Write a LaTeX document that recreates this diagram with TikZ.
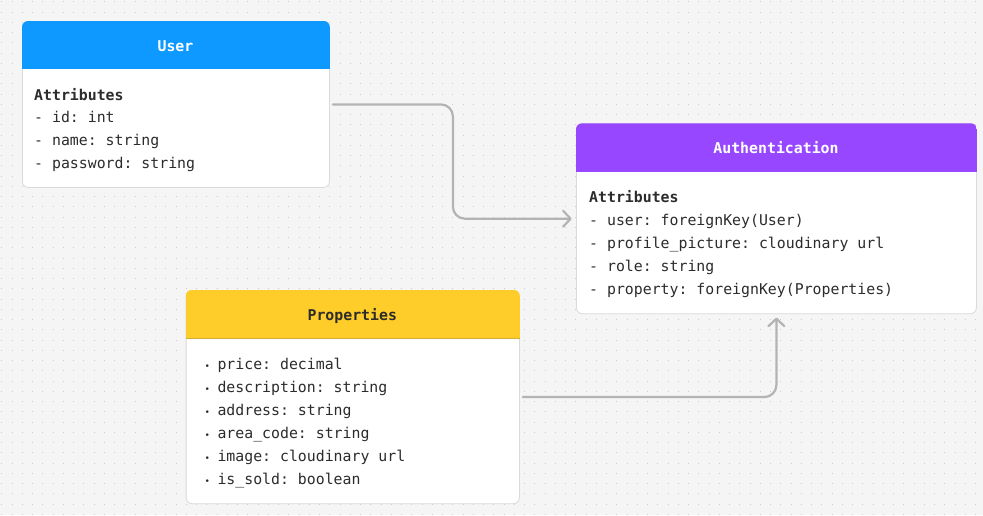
\documentclass[tikz,border=0pt]{standalone}
\usepackage{fontspec}
\setmonofont{DejaVu Sans Mono}
\usetikzlibrary{arrows.meta,calc}
\definecolor{bgc}{HTML}{F5F5F5}
\definecolor{dotc}{HTML}{CDCDCD}
\definecolor{borderc}{HTML}{DADADA}
\definecolor{userblue}{HTML}{0D99FF}
\definecolor{authpurple}{HTML}{9747FF}
\definecolor{propyellow}{HTML}{FFCD29}
\definecolor{txt}{HTML}{2C2C2C}
\definecolor{connc}{HTML}{B3B3B3}
\begin{document}
\begin{tikzpicture}[x=1pt,y=-1pt,
  box/.style={draw=borderc,fill=white,line width=0.8pt,rounded corners=6pt,inner sep=0pt,anchor=north west},
  title/.style={font=\ttfamily\bfseries\fontsize{14.85}{18}\selectfont,inner sep=0pt,anchor=base},
  attr/.style={font=\ttfamily\fontsize{14.85}{18}\selectfont,text=txt,inner sep=0pt,anchor=base west},
  battr/.style={attr,font=\ttfamily\bfseries\fontsize{14.85}{18}\selectfont},
  conn/.style={draw=connc,line width=2.2pt,rounded corners=12pt,line cap=round,line join=round,
    -{Straight Barb[length=7.5pt,width=16pt,line cap=round,line join=round]}}
]
\useasboundingbox (0,0) rectangle (983,515);
\fill[bgc] (0,0) rectangle (983,515);
\foreach \k in {0,...,50}
  \draw[dotc,line width=1.1pt,dash pattern=on 1.1pt off 9.15pt] (1.25,{1.8+10.25*\k}) -- (983,{1.8+10.25*\k});

% boxes
\node[box,minimum width=307pt,minimum height=166pt] (user) at (22,21) {};
\node[box,minimum width=400pt,minimum height=190pt] (auth) at (576,123.3) {};
\node[box,minimum width=333.3pt,minimum height=213.3pt] (props) at (185.7,290) {};

% headers
\begin{scope}
  \clip[rounded corners=6pt] (user.north west) rectangle (user.south east);
  \fill[userblue] (user.north west) rectangle ($(user.north east)+(0,48.3)$);
\end{scope}
\begin{scope}
  \clip[rounded corners=6pt] (auth.north west) rectangle (auth.south east);
  \fill[authpurple] (auth.north west) rectangle ($(auth.north east)+(0,49)$);
\end{scope}
\begin{scope}
  \clip[rounded corners=6pt] (props.north west) rectangle (props.south east);
  \fill[propyellow] (props.north west) rectangle ($(props.north east)+(0,48.3)$);
  \draw[propyellow!80!black!90,line width=0.6pt] ($(props.north west)+(0,48.3)$) -- ($(props.north east)+(0,48.3)$);
\end{scope}

% titles
\node[title,text=white] (usertitle) at (175.5,51) {User};
\node[title,text=white] (authtitle) at (776,153) {Authentication};
\node[title,text=txt] (proptitle) at (352.3,320.7) {Properties};

% user attributes
\node[battr] (ua0) at (34,100) {Attributes};
\node[attr] (ua1) at (34,122.7) {- id: int};
\node[attr] (ua2) at (34,145.3) {- name: string};
\node[attr] (ua3) at (34,168) {- password: string};

% auth attributes
\node[battr] (aa0) at (589,202) {Attributes};
\node[attr] (aa1) at (589,225) {- user: foreignKey(User)};
\node[attr] (aa2) at (589,248) {- profile\_picture: cloudinary url};
\node[attr] (aa3) at (589,271) {- role: string};
\node[attr] (aa4) at (589,294) {- property: foreignKey(Properties)};

% properties
\newcommand{\blt}{\llap{{\fontsize{9}{9}\selectfont •}\hspace{7.5pt}}}
\node[attr] (pa1) at (217.3,369) {\blt price: decimal};
\node[attr] (pa2) at (217.3,392) {\blt description: string};
\node[attr] (pa3) at (217.3,415) {\blt address: string};
\node[attr] (pa4) at (217.3,438) {\blt area\_code: string};
\node[attr] (pa5) at (217.3,461) {\blt image: cloudinary url};
\node[attr] (pa6) at (217.3,484) {\blt is\_sold: boolean};

% connectors
\coordinate (mid) at ($(user.east)!0.5!(auth.west)$);
\draw[conn,shorten <=3pt,shorten >=4.3pt] (user.east) -| (mid) |- (auth.west);
\draw[conn,shorten <=3pt,shorten >=3.5pt] (props.east) -| (auth.south);
\end{tikzpicture}
\end{document}
